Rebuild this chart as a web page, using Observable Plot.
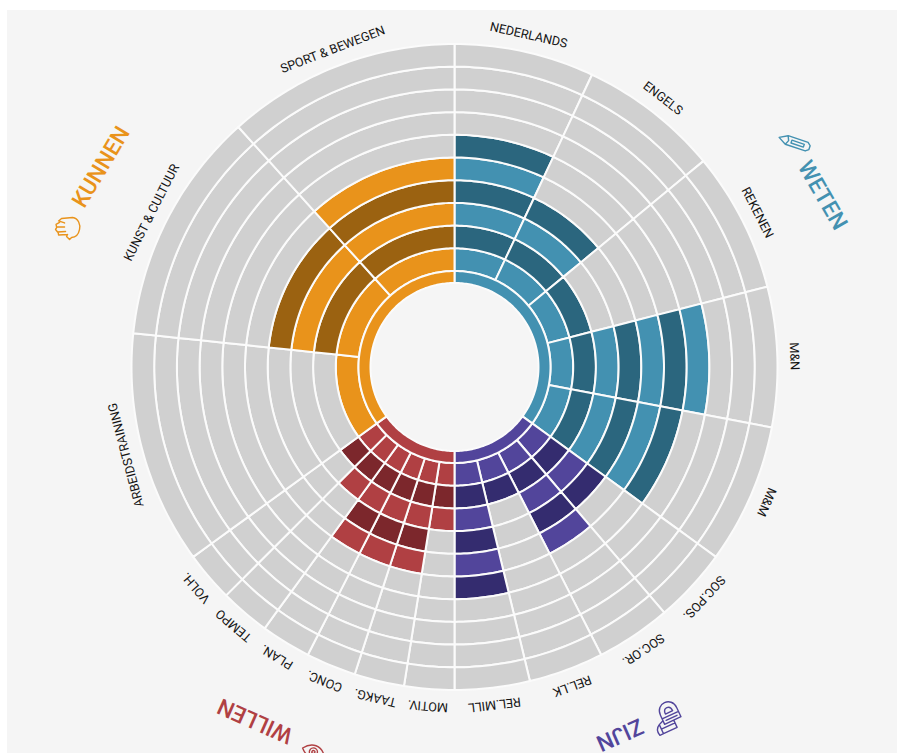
<!DOCTYPE html>
<html>
<head>
<meta charset="utf-8">
<script src="https://cdn.jsdelivr.net/npm/d3@7"></script>
<script src="https://cdn.jsdelivr.net/npm/@observablehq/plot@0.6"></script>
<style>
html,body{margin:0;padding:0;background:#fff;overflow:hidden;}
#panel{position:absolute;left:7px;top:10px;width:890px;height:743px;background:#f5f5f5;}
#chart{position:absolute;left:0;top:0;}
</style>
</head>
<body>
<div id="panel"></div>
<div id="chart"></div>
<script>
// ---- data ----
const subjects = ["NEDERLANDS","ENGELS","REKENEN","M&N","M&M","SOC.POS.","SOC.OR.","REL.LK","REL.MILL","MOTIV.","TAAKG.","CONC.","PLAN.","TEMPO","VOLH.","ARBEIDSTRAINING","KUNST & CULTUUR","SPORT & BEWEGEN"];
const subjectGroups = ["WETEN","WETEN","WETEN","WETEN","WETEN","ZIJN","ZIJN","ZIJN","ZIJN","WILLEN","WILLEN","WILLEN","WILLEN","WILLEN","WILLEN","KUNNEN","KUNNEN","KUNNEN"];
const spans = [25.2,25.2,25.2,25.2,25.2,13.5,13.5,13.5,13.5,9,9,9,9,9,9,42,42,42];
const levels = [7,5,3,8,7,5,6,3,7,4,6,6,6,4,3,2,5,6];
const groups = ["WETEN","ZIJN","WILLEN","KUNNEN"];
const groupAngles = [65,155.8,209.4,299.5];
const groupRadii = [406,403,406,406];
const groupRotations = [60,156,204,-59];
const toneNames = ["grijs","WETEN licht","WETEN donker","ZIJN licht","ZIJN donker","WILLEN licht","WILLEN donker","KUNNEN licht","KUNNEN donker"];
const toneColors = ["#d0d0d0","#4391b1","#2b667e","#52459b","#342c6f","#b04043","#7c272c","#e9931b","#9b6211"];
const ringCount = 11;

// ---- geometry: azimuthal equidistant, so distance from the pole is the radius ----
const scalePx = 300;
const cx = 454, cy = 366.5;
const pxPerDeg = scalePx * Math.PI / 180;
const radius = (level) => level === 0 ? 84 : 96 + (level - 1) * 22.7;
const lon = (a) => 180 - a;
const lat = (r) => 90 - r / pxPerDeg;

function cell(a0, a1, r0, r1, tone) {
  const n = Math.max(2, Math.ceil(a1 - a0));
  const arc = d3.range(n + 1).map((i) => a0 + (a1 - a0) * i / n);
  const ring = [
    ...arc.map((a) => [lon(a), lat(r1)]),
    ...arc.slice().reverse().map((a) => [lon(a), lat(r0)])
  ];
  ring.push(ring[0]);
  let poly = {type: "Polygon", coordinates: [ring]};
  if (d3.geoArea(poly) > 2 * Math.PI) poly = {type: "Polygon", coordinates: [ring.slice().reverse()]};
  return {type: "Feature", properties: {tone}, geometry: poly};
}

const starts = d3.cumsum([0, ...spans]);
const cells = [];
subjects.forEach((s, i) => {
  const a0 = starts[i], a1 = starts[i] + spans[i], g = subjectGroups[i];
  for (let k = 2; k <= ringCount; ++k) {
    const tone = k > levels[i] ? "grijs" : `${g} ${k % 2 === 0 ? "licht" : "donker"}`;
    cells.push(cell(a0, a1, radius(k - 1), radius(k), tone));
  }
});
// innermost thin ring: one arc per group, no spokes inside it
groups.forEach((g) => {
  const idx = d3.range(subjects.length).filter((i) => subjectGroups[i] === g);
  const a0 = starts[idx[0]], a1 = starts[idx[idx.length - 1]] + spans[idx[idx.length - 1]];
  cells.push(cell(a0, a1, radius(0), radius(1), `${g} licht`));
});

const subjectRows = subjects.map((name, i) => ({name, a: starts[i] + spans[i] / 2}));
const groupRows = groups.map((name, i) => ({name, a: groupAngles[i], r: groupRadii[i], rot: groupRotations[i]}));

// ---- icon outlines ----
const pencil = {draw(c) {
  const u = [0.95, 0.32], v = [-0.32, 0.95], t0 = [-16, -5];
  const P = (t, s) => [t0[0] + t * u[0] + s * v[0], t0[1] + t * u[1] + s * v[1]];
  const poly = (pts) => { pts.forEach((p, i) => i ? c.lineTo(...p) : c.moveTo(...p)); c.closePath(); };
  poly([P(0,0), P(8,-4.5), P(29,-4.5), P(32,-2), P(32,2), P(29,4.5), P(8,4.5)]);
  poly([P(13,-1.5), P(26,-1.5), P(26,1.5), P(13,1.5)]);
  c.moveTo(...P(8,-4.5)); c.lineTo(...P(10,0)); c.lineTo(...P(8,4.5));
}};
const hand = {draw(c) {
  c.moveTo(-6,-10); c.lineTo(5,-11); c.bezierCurveTo(11,-10,13,-4,12,1); c.bezierCurveTo(11,6,8,9,4,9);
  c.lineTo(2,11); c.lineTo(-1,8); c.lineTo(0,6);
  c.moveTo(-6,-10); c.lineTo(-9,-7.5); c.lineTo(-3,-5.5);
  c.moveTo(-8,-6); c.lineTo(-11.5,-4); c.lineTo(-11,-1.5); c.lineTo(-3,-1.5);
  c.moveTo(-10.5,-1.5); c.lineTo(-12,1); c.lineTo(-10,3.5); c.lineTo(-2,3);
  c.moveTo(-9.5,3.5); c.lineTo(-9,6.5); c.lineTo(0,6);
}};
const eye = {draw(c) {
  c.moveTo(-11,0); c.bezierCurveTo(-4,-9,6,-9,12,0); c.bezierCurveTo(6,8,-4,8,-11,0); c.closePath();
  c.moveTo(4.5,0); c.arc(0.5,0,4,0,2*Math.PI);
  c.moveTo(2,0); c.arc(0.5,0,1.5,0,2*Math.PI);
}};
const arches = {draw(c) {
  c.moveTo(-4,6); c.lineTo(-4,-4); c.bezierCurveTo(-4,-17,14,-17,14,-4); c.lineTo(14,6); c.closePath();
  c.moveTo(-4,0); c.lineTo(14,0);
  c.moveTo(1,-3); c.bezierCurveTo(1,-10,9,-10,9,-3); c.closePath();
  c.moveTo(-1,3); c.lineTo(11,3);
  c.moveTo(-4,2); c.lineTo(-9,4); c.lineTo(-9,14); c.lineTo(6,14); c.lineTo(6,6);
  c.moveTo(-9,9); c.lineTo(6,9);
  c.moveTo(-9,4); c.bezierCurveTo(-13,6,-14,10,-13,14); c.lineTo(-9,14);
}};
const iconRows = [
  {shape: pencil, tone: "WETEN licht", a: 56.6, r: 408, rot: 0},
  {shape: arches, tone: "ZIJN licht", a: 148.9, r: 409, rot: -25},
  {shape: eye, tone: "WILLEN licht", a: 200.2, r: 410, rot: 20},
  {shape: hand, tone: "KUNNEN licht", a: 289.7, r: 411, rot: 0}
];

const projection = d3.geoAzimuthalEquidistant().rotate([0, -90]).scale(scalePx).translate([cx, cy]).precision(0.1);

const plot = Plot.plot({
  width: 897,
  height: 753,
  margin: 0,
  projection,
  style: {background: "transparent"},
  color: {domain: toneNames, range: toneColors},
  marks: [
    Plot.geo(cells, {fill: (d) => d.properties.tone, stroke: "#fbfbfb", strokeWidth: 2}),
    Plot.text(subjectRows, {
      x: (d) => lon(d.a), y: () => lat(340),
      text: "name", rotate: "a",
      fontFamily: "Roboto", fontSize: 12.6, fill: "#141414",
      textAnchor: "middle", lineAnchor: "middle"
    }),
    Plot.text(groupRows, {
      x: (d) => lon(d.a), y: (d) => lat(d.r),
      text: "name", rotate: "rot",
      fontFamily: "Roboto", fontSize: 22.6, fontWeight: 500,
      fill: (d) => `${d.name} licht`,
      textAnchor: "middle", lineAnchor: "middle"
    }),
    ...iconRows.map((d) => Plot.vector([d], {
      x: (e) => lon(e.a), y: (e) => lat(e.r),
      rotate: d.rot, length: 1, anchor: "start",
      shape: d.shape, stroke: (e) => e.tone, strokeWidth: 1.4, fill: "none"
    }))
  ]
});
document.getElementById("chart").appendChild(plot);
</script>
</body>
</html>
